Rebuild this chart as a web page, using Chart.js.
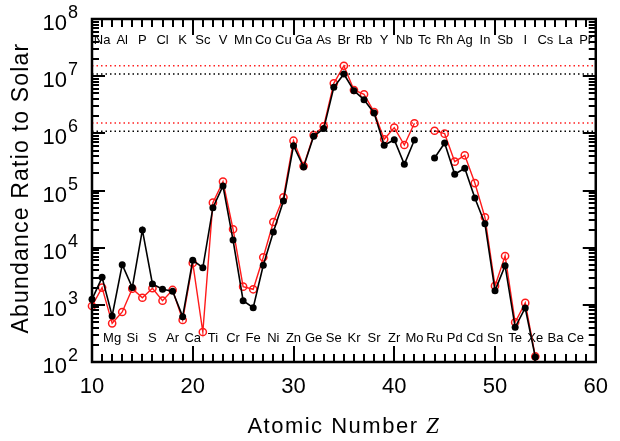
<!DOCTYPE html>
<html>
<head>
<meta charset="utf-8">
<script src="https://cdn.jsdelivr.net/npm/chart.js@4/dist/chart.umd.min.js"></script>
<style>
  html, body { margin: 0; padding: 0; background: #fff; }
  #wrap { width: 620px; height: 441px; }
</style>
</head>
<body>
<div id="wrap"><canvas id="abund" width="620" height="441"></canvas></div>
<script>
// atomic numbers plotted
const atomicNumbers = [10, 11, 12, 13, 14, 15, 16, 17, 18, 19, 20, 21, 22, 23, 24, 25, 26, 27, 28, 29,
    30, 31, 32, 33, 34, 35, 36, 37, 38, 39, 40, 41, 42, 43, 44, 45, 46, 47, 48, 49, 50, 51, 52, 53, 54];

// black filled circles
const blackAbund = [1250, 3030, 638, 5040, 2000, 20400, 2320, 1870, 1730, 621, 6020, 4470, 50000, 120000,
    13600, 1180, 891, 4920, 18800, 65600, 608000, 258000, 888000, 1.21e6, 6.38e6, 1.09e7, 5.57e6, 3.88e6,
    2.27e6, 618000, 774000, 287000, 764000, null, 371000, 678000, 192000, 245000, 74000, 26300, 1770, 4840,
    405, 881, 122];

// red open circles
const redAbund = [955, 2000, 475, 750, 1920, 1330, 1950, 1180, 1820, 543, 5400, 335, 61200, 143000,
    21000, 2080, 1870, 6790, 28100, 76000, 743000, 268000, 935000, 1.33e6, 7.5e6, 1.52e7, 5.73e6, 4.82e6,
    2.36e6, 787000, 1.26e6, 625000, 1.5e6, null, 1.11e6, 986000, 319000, 413000, 135000, 34000, 2140, 7150,
    495, 1080, 125];

// dotted reference levels (peak and peak/10)
const redLevels = [1.52e7, 1.52e6];
const blackLevels = [1.09e7, 1.09e6];

// element symbols from Z = 11 up; odd Z along the top, even Z along the bottom
const symbolStartZ = 11;
const symbols = ['Na', 'Mg', 'Al', 'Si', 'P', 'S', 'Cl', 'Ar', 'K', 'Ca', 'Sc', 'Ti', 'V', 'Cr', 'Mn', 'Fe',
    'Co', 'Ni', 'Cu', 'Zn', 'Ga', 'Ge', 'As', 'Se', 'Br', 'Kr', 'Rb', 'Sr', 'Y', 'Zr', 'Nb', 'Mo', 'Tc', 'Ru',
    'Rh', 'Pd', 'Ag', 'Cd', 'In', 'Sn', 'Sb', 'Te', 'I', 'Xe', 'Cs', 'Ba', 'La', 'Ce', 'Pr'];

const xTicks = [10, 20, 30, 40, 50, 60];
const yExponents = [2, 3, 4, 5, 6, 7, 8];

const SANS = '"Liberation Sans", Arial, Helvetica, sans-serif';
const SERIF_IT = 'italic 23px "Liberation Serif", "Times New Roman", serif';

const toPoints = (vals) => atomicNumbers.map((z, i) => ({ x: z, y: vals[i] }));
const levelLine = (v) => [{ x: 10, y: v }, { x: 60, y: v }];

const levelSets = [];
redLevels.forEach(v => levelSets.push({
    data: levelLine(v), borderColor: '#ff2020', borderWidth: 1.5, borderDash: [1.5, 3],
    pointRadius: 0, fill: false
}));
blackLevels.forEach(v => levelSets.push({
    data: levelLine(v), borderColor: '#000', borderWidth: 1.5, borderDash: [1.5, 3],
    pointRadius: 0, fill: false
}));

const decorations = {
    id: 'decorations',
    beforeDatasetsDraw(chart) {
        const ctx = chart.ctx;
        const xs = chart.scales.x;
        const area = chart.chartArea;
        ctx.save();
        ctx.fillStyle = '#000';
        ctx.font = '13px ' + SANS;
        ctx.textAlign = 'center';
        ctx.textBaseline = 'middle';
        symbols.forEach((s, i) => {
            const z = symbolStartZ + i;
            const px = xs.getPixelForValue(z);
            const py = (z % 2 === 1) ? area.top + 21 : area.bottom - 24;
            ctx.fillText(s, px, py);
        });
        ctx.restore();
    },
    afterDraw(chart) {
        const ctx = chart.ctx;
        const xs = chart.scales.x;
        const ys = chart.scales.y;
        const a = chart.chartArea;
        ctx.save();
        ctx.strokeStyle = '#000';
        ctx.lineWidth = 2;
        ctx.lineCap = 'butt';
        ctx.beginPath();
        // x ticks, inward on top and bottom
        for (let z = 10; z <= 60; z++) {
            const px = Math.round(xs.getPixelForValue(z));
            const len = (z % 10 === 0) ? 16 : 8;
            ctx.moveTo(px, a.bottom); ctx.lineTo(px, a.bottom - len);
            ctx.moveTo(px, a.top); ctx.lineTo(px, a.top + len);
        }
        // y ticks, log
        for (let e = 2; e <= 8; e++) {
            for (let m = 1; m <= 9; m++) {
                const v = m * Math.pow(10, e);
                if (v > 1e8) break;
                const py = Math.round(ys.getPixelForValue(v));
                const len = (m === 1) ? 13 : 7;
                ctx.moveTo(a.left, py); ctx.lineTo(a.left + len, py);
                ctx.moveTo(a.right, py); ctx.lineTo(a.right - len, py);
            }
        }
        ctx.stroke();
        // frame
        ctx.lineWidth = 2.5;
        ctx.strokeRect(a.left, a.top, a.right - a.left, a.bottom - a.top);

        // y tick labels 10^n
        ctx.fillStyle = '#000';
        ctx.textBaseline = 'alphabetic';
        yExponents.forEach(e => {
            const py = ys.getPixelForValue(Math.pow(10, e));
            ctx.font = '18px ' + SANS;
            const ew = ctx.measureText(String(e)).width;
            ctx.textAlign = 'left';
            ctx.fillText(String(e), 78 - ew, py - 1);
            ctx.font = '22px ' + SANS;
            ctx.textAlign = 'right';
            ctx.fillText('10', 78 - ew - 1, py + 11);
        });

        // axis titles
        ctx.letterSpacing = '1.5px';
        const t1 = 'Atomic Number ';
        ctx.font = '22px ' + SANS;
        const w1 = ctx.measureText(t1).width;
        ctx.font = SERIF_IT;
        const w2 = ctx.measureText('Z').width;
        const cx = (a.left + a.right) / 2;
        const startX = cx - (w1 + w2) / 2;
        ctx.textAlign = 'left';
        ctx.font = '22px ' + SANS;
        ctx.fillText(t1, startX, 433);
        ctx.font = SERIF_IT;
        ctx.fillText('Z', startX + w1, 433);

        ctx.letterSpacing = '1.2px';
        ctx.translate(28, 188);
        ctx.rotate(-Math.PI / 2);
        ctx.font = '23px ' + SANS;
        ctx.textAlign = 'center';
        ctx.fillText('Abundance Ratio to Solar', 0, 0);
        ctx.restore();
    }
};

new Chart(document.getElementById('abund').getContext('2d'), {
    type: 'line',
    data: {
        datasets: [
            ...levelSets,
            {
                data: toPoints(blackAbund), borderColor: '#000', backgroundColor: '#000',
                borderWidth: 1.6, pointRadius: 3.5, pointBorderWidth: 0, pointBackgroundColor: '#000',
                spanGaps: false, fill: false, clip: false
            },
            {
                data: toPoints(redAbund), borderColor: '#ff1a1a', backgroundColor: 'rgba(0,0,0,0)',
                borderWidth: 1.4, pointRadius: 3.6, pointBorderWidth: 1.5, pointBackgroundColor: 'rgba(0,0,0,0)',
                spanGaps: false, fill: false, clip: false
            }
        ]
    },
    options: {
        responsive: false,
        animation: false,
        layout: { padding: { top: 19, right: 18, left: 0, bottom: 0 } },
        plugins: { legend: { display: false }, tooltip: { enabled: false } },
        scales: {
            x: {
                type: 'linear', min: 10, max: 60,
                grid: { display: false, drawTicks: false },
                border: { display: false },
                ticks: {
                    stepSize: 10, color: '#000', padding: 12,
                    font: { size: 22, family: SANS },
                    callback: (v) => xTicks.includes(v) ? String(v) : ''
                },
                afterFit: (s) => { s.height = 79; }
            },
            y: {
                type: 'logarithmic', min: 100, max: 1e8,
                grid: { display: false, drawTicks: false },
                border: { display: false },
                ticks: { display: false },
                afterFit: (s) => { s.width = 92; }
            }
        }
    },
    plugins: [decorations]
});
</script>
</body>
</html>
